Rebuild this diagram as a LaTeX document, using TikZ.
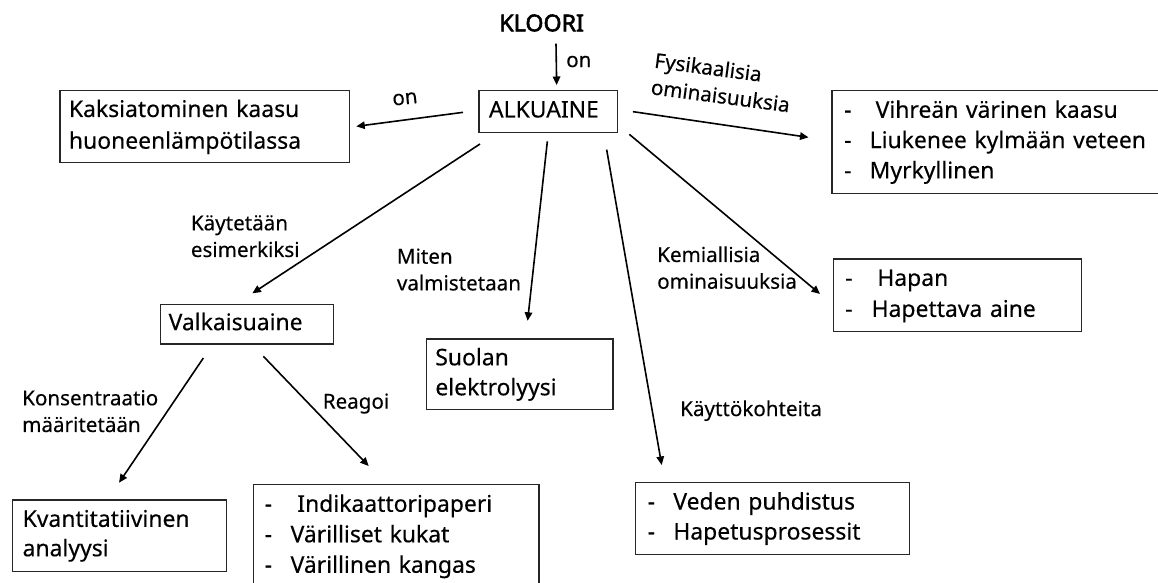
\documentclass[tikz,border=0pt]{standalone}
\usepackage{fontspec}
\setmainfont{Noto Sans}[FakeBold=0.3]
\newfontfamily\klooribold{Noto Sans}[FakeBold=2.5]
\usetikzlibrary{arrows.meta}
\tikzset{
  box/.style={draw=black!85, line width=1.3pt, rectangle, anchor=north west, align=left, inner ysep=0pt, text=black, font=\fontsize{22.9}{30.5}\selectfont},
  lbl/.style={align=left, inner sep=0pt, text=black, font=\fontsize{20.6}{26.7}\selectfont},
  arr/.style={line width=1.6pt, -{Triangle[length=8.5pt,width=7.5pt]}},
}
\begin{document}
\begin{tikzpicture}[x=1pt,y=-1pt]
\useasboundingbox (0,0) rectangle (1158,583);
% title
\node[inner sep=0pt, text=black, font=\klooribold\fontsize{23.2}{30.5}\selectfont] (kloori) at (541.6,23) {KLOORI};
% boxes
\node[box, inner xsep=10pt, text width=118.7pt, minimum height=41.5pt] (alk) at (478.3,90) {\strut ALKUAINE};
\node[box, inner xsep=9pt, text width=271.4pt, minimum height=71.7pt, font=\fontsize{22.9}{31.7}\selectfont] (kaksi) at (59.3,90) {\strut Kaksiatominen kaasu\\\strut huoneenlämpötilassa};
\node[box, inner xsep=12.1pt, text width=306.4pt, minimum height=102.7pt, font=\fontsize{22.9}{30.3}\selectfont] (vih) at (831.4,90) {\strut\makebox[31.5pt][l]{-}Vihreän värinen kaasu\\\strut\makebox[25.5pt][l]{-}Liukenee kylmään veteen\\\strut\makebox[25.5pt][l]{-}Myrkyllinen};
\node[box, inner xsep=12.1pt, text width=223.8pt, minimum height=72.4pt, font=\fontsize{22.9}{31}\selectfont] (hap) at (832.5,258.3) {\strut\makebox[32.1pt][l]{-}Hapan\\\strut\makebox[26.4pt][l]{-}Hapettava aine};
\node[box, inner xsep=8.5pt, text width=156.5pt, minimum height=39.8pt] (valk) at (159.5,303.5) {\strut Valkaisuaine};
\node[box, inner xsep=9.2pt, text width=168.5pt, minimum height=70.7pt, font=\fontsize{22.9}{30}\selectfont] (suol) at (425.5,338.3) {\strut Suolan\\\strut elektrolyysi};
\node[box, inner xsep=10.2pt, text width=193.5pt, minimum height=71.4pt, font=\fontsize{22.9}{29.4}\selectfont] (kvant) at (11.8,499.3) {\strut Kvantitatiivinen\\\strut analyysi};
\node[box, inner xsep=11.3pt, text width=263pt, minimum height=103pt, font=\fontsize{22.9}{30.5}\selectfont] (indik) at (252.7,484) {\strut\makebox[32.7pt][l]{-}Indikaattoripaperi\\\strut\makebox[26pt][l]{-}Värilliset kukat\\\strut\makebox[26pt][l]{-}Värillinen kangas};
\node[box, inner xsep=12.2pt, text width=249.4pt, minimum height=72.3pt, font=\fontsize{22.9}{30}\selectfont] (veden) at (634.8,481.7) {\strut\makebox[25.7pt][l]{-}Veden puhdistus\\\strut\makebox[25.7pt][l]{-}Hapetusprosessit};
% labels
\node[lbl, anchor=west] (lon1) at (566,61.7) {\strut on};
\node[lbl, rotate=6] (lon2) at (405,99) {\strut on};
\node[lbl, rotate=-7.5] (lfys) at (722,84.7) {\strut Fysikaalisia\\\strut ominaisuuksia};
\node[lbl, anchor=west] (lkem) at (657,270) {\strut Kemiallisia\\\strut ominaisuuksia};
\node[lbl, anchor=west] (lkay) at (190.7,238.3) {\strut Käytetään\\\strut esimerkiksi};
\node[lbl, anchor=west] (lmit) at (396.7,271.7) {\strut Miten\\\strut valmistetaan};
\node[lbl, anchor=west] (lkon) at (22,413.3) {\strut Konsentraatio\\\strut määritetään};
\node[lbl, anchor=west] (lrea) at (322.6,403.3) {\strut Reagoi};
\node[lbl, anchor=west] (lkk) at (680,410.7) {\strut Käyttökohteita};
% connectors
\draw[arr] ([shift={(14.4,11.95)}]kloori.south) -- ([shift={(8.35,-5)}]alk.north);
\draw[arr] ([shift={(-15.3,0.95)}]alk.west) -- ([shift={(6.3,-0.15)}]kaksi.east);
\draw[arr] ([shift={(14.6,0.25)}]alk.east) -- ([shift={(-22.9,-4.65)}]vih.west);
\draw[arr] ([shift={(11,1.5)}]alk.south east) -- ([shift={(-12.5,-1.2)}]hap.west);
\draw[arr] ([shift={(1.7,11.2)}]alk.south west) -- ([shift={(5.45,-10.2)}]valk.north);
\draw[arr] ([shift={(-0.95,8.5)}]alk.south) -- ([shift={(8,-17.5)}]suol.north);
\draw[arr] ([shift={(58.35,16.8)}]alk.south) -- ([shift={(26.9,-16.7)}]veden.north west);
\draw[arr] ([shift={(-43.55,13.4)}]valk.south) -- ([shift={(-0.35,-16.6)}]kvant.north);
\draw[arr] ([shift={(16.45,11.7)}]valk.south) -- ([shift={(-27.5,-18)}]indik.north);
\end{tikzpicture}
\end{document}
